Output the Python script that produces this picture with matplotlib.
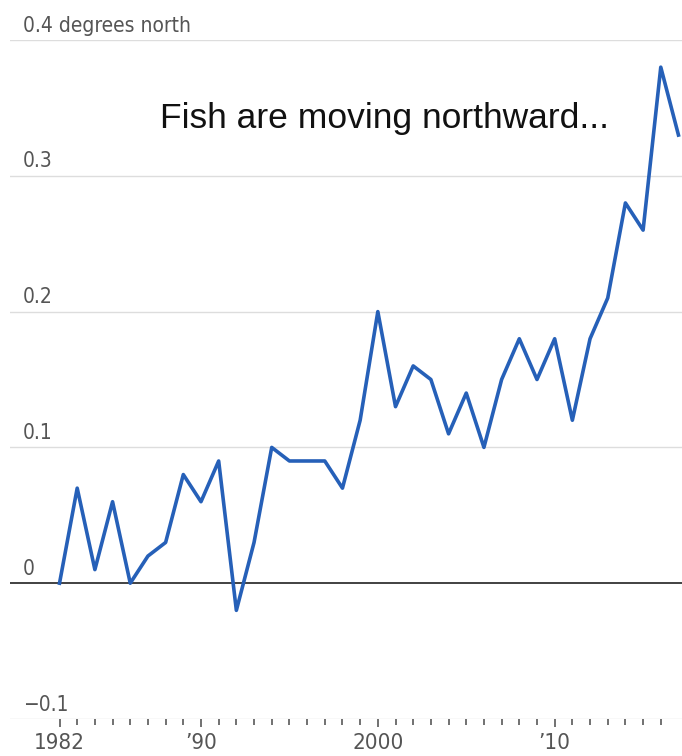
import matplotlib
matplotlib.use("Agg")
import matplotlib.pyplot as plt
import matplotlib.transforms as mtransforms

# Average latitude shift of fish stocks, 1982-2017
years = list(range(1982, 2018))
shift = [0.00, 0.07, 0.01, 0.06, 0.00, 0.02, 0.03, 0.08, 0.06, 0.09,
         -0.02, 0.03, 0.10, 0.09, 0.09, 0.09, 0.07, 0.12, 0.20, 0.13,
         0.16, 0.15, 0.11, 0.14, 0.10, 0.15, 0.18, 0.15, 0.18, 0.12,
         0.18, 0.21, 0.28, 0.26, 0.38, 0.33]

y_ticks = [-0.1, 0.0, 0.1, 0.2, 0.3, 0.4]
y_labels = ["\u22120.1", "0", "0.1", "0.2", "0.3", "0.4 degrees north"]
x_major = [1982, 1990, 2000, 2010]
x_labels = ["1982", "\u201990", "2000", "\u201910"]

label_font = dict(family="DejaVu Sans", stretch="condensed")
label_grey = "#555555"

fig = plt.figure(figsize=(6.82, 7.56), dpi=100)
ax = fig.add_axes([10 / 682, 37 / 756, 672 / 682, 679 / 756])
ax.set_xlim(1979.2, 2017.2)
ax.set_ylim(-0.1, 0.4)

for s in ax.spines.values():
    s.set_visible(False)

# horizontal rules, the zero line darker
for v in y_ticks:
    if v == 0:
        ax.axhline(v, color="#333333", lw=1.3, zorder=1)
    else:
        ax.axhline(v, color="#dddddd", lw=1.0, zorder=0)

# y labels sit on top of their rules
ytrans = mtransforms.offset_copy(ax.get_yaxis_transform(), fig=fig, y=6, units="points")
for v, lab in zip(y_ticks, y_labels):
    ax.text(13 / 672, v, lab, transform=ytrans, ha="left", va="baseline",
            fontsize=15, color=label_grey, **label_font)

ax.set_yticks([])
ax.set_xticks(x_major)
ax.set_xticklabels(x_labels, fontsize=16, color=label_grey, **label_font)
ax.set_xticks(list(range(1982, 2017)), minor=True)
ax.tick_params(axis="x", which="major", length=6, width=1.3, color="#666666",
               pad=4, direction="out")
ax.tick_params(axis="x", which="minor", length=4.5, width=1.3, color="#666666",
               direction="out")

ax.plot(years, shift, color="#2660b8", lw=2.6, solid_joinstyle="round",
        clip_on=False, zorder=3)

fig.text(160 / 682, 1 - 128 / 756, "Fish are moving northward...",
         fontsize=25.5, family="Liberation Sans", color="#111111", va="baseline")

fig.savefig("out.png", dpi=100)
